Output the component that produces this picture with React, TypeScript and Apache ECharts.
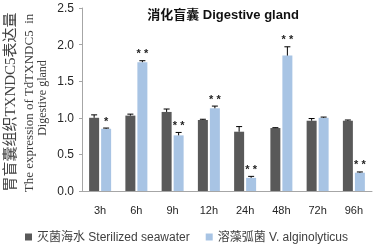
import React, { useEffect, useRef } from "react";
import * as echarts from "echarts";

const categories = ["3h", "6h", "9h", "12h", "24h", "48h", "72h", "96h"];
const sterilized = [1.0, 1.03, 1.08, 0.97, 0.81, 0.86, 0.96, 0.96];
const sterilizedErr = [0.04, 0.02, 0.04, 0.01, 0.07, 0.005, 0.03, 0.01];
const vibrio = [0.85, 1.76, 0.76, 1.13, 0.18, 1.85, 1.0, 0.25];
const vibrioErr = [0.01, 0.02, 0.04, 0.03, 0.02, 0.12, 0.01, 0.01];
const vibrioSig = ["*", "**", "**", "**", "**", "**", "", "**"];
const sterilizedSig = ["", "", "", "", "", "", "", ""];
const yTicks = [0, 0.5, 1.0, 1.5, 2.0, 2.5];

const seriesNames = ["灭菌海水 Sterilized seawater", "溶藻弧菌 V. alginolyticus"];
const colors = ["#595959", "#a8c4e4"];

const SANS = '"Liberation Sans", "Noto Sans CJK SC", sans-serif';
const SERIF = '"Liberation Serif", "Noto Sans CJK SC", serif';

const BAR_W = 10;
const OFFSET = 6;

function errSeries(vals: number[], errs: number[], sig: string[], offset: number) {
  return {
    type: "custom",
    z: 5,
    silent: true,
    encode: { x: 0, y: 1 },
    data: vals.map((v, i) => [i, v, errs[i]]),
    renderItem: (params: any, api: any) => {
      const idx = api.value(0);
      const v = api.value(1);
      const e = api.value(2);
      const base = api.coord([idx, v]);
      const top = api.coord([idx, v + e]);
      const x = base[0] + offset;
      const children: any[] = [
        {
          type: "line",
          shape: { x1: x, y1: base[1], x2: x, y2: top[1] },
          style: { stroke: "#000", lineWidth: 1 },
        },
        {
          type: "line",
          shape: { x1: x - 3, y1: top[1], x2: x + 3, y2: top[1] },
          style: { stroke: "#000", lineWidth: 1 },
        },
      ];
      const s = sig[params.dataIndex];
      if (s) {
        children.push({
          type: "text",
          x: x,
          y: top[1] - 2,
          style: {
            text: s.split("").join(" "),
            fontSize: 11,
            fontFamily: SANS,
            fontWeight: "bold",
            fill: "#222",
            align: "center",
            verticalAlign: "bottom",
          },
        });
      }
      return { type: "group", children };
    },
  };
}

export default function App() {
  const ref = useRef<HTMLDivElement>(null);
  useEffect(() => {
    if (!ref.current) return;
    const chart = echarts.init(ref.current, undefined, { renderer: "svg" });
    chart.setOption({
      animation: false,
      grid: { left: 82, right: 1, top: 8, bottom: 53 },
      legend: {
        data: seriesNames,
        left: 20,
        top: 226,
        icon: "rect",
        itemWidth: 7,
        itemHeight: 7,
        itemGap: 16,
        textStyle: { fontSize: 12, color: "#404040", fontFamily: SANS },
      },
      graphic: [
        {
          type: "text",
          x: 223,
          y: 14,
          style: {
            text: "消化盲囊 Digestive gland",
            fontSize: 13,
            fontWeight: "bold",
            fontFamily: SANS,
            fill: "#111",
            align: "center",
            verticalAlign: "middle",
          },
        },
        {
          type: "text",
          x: 10,
          y: 102,
          rotation: Math.PI / 2,
          style: {
            text: "胃盲囊组织TXNDC5表达量",
            fontSize: 15,
            fontFamily: SERIF,
            fill: "#404040",
            align: "center",
            verticalAlign: "middle",
          },
        },
        {
          type: "text",
          x: 28,
          y: 103,
          rotation: Math.PI / 2,
          style: {
            text: "The expression of TdTXNDC5  in",
            fontSize: 13,
            fontFamily: SERIF,
            fill: "#404040",
            align: "center",
            verticalAlign: "middle",
          },
        },
        {
          type: "text",
          x: 42,
          y: 98,
          rotation: Math.PI / 2,
          style: {
            text: "Digestive gland",
            fontSize: 12,
            fontFamily: SERIF,
            fill: "#404040",
            align: "center",
            verticalAlign: "middle",
          },
        },
      ],
      xAxis: {
        type: "category",
        data: categories,
        axisLine: { lineStyle: { color: "#a6a6a6" } },
        axisTick: { length: 4, lineStyle: { color: "#a6a6a6" } },
        axisLabel: { fontSize: 11, color: "#262626", fontFamily: SANS, margin: 13 },
      },
      yAxis: {
        type: "value",
        min: 0,
        max: 2.5,
        interval: 0.5,
        splitLine: { show: false },
        axisLine: { show: true, lineStyle: { color: "#a6a6a6" } },
        axisTick: { show: true, length: 3, lineStyle: { color: "#a6a6a6" } },
        axisLabel: {
          fontSize: 12,
          color: "#262626",
          fontFamily: SANS,
          margin: 8,
          formatter: (v: number) => (yTicks.includes(v) ? v.toFixed(1) : ""),
        },
      },
      series: [
        {
          name: seriesNames[0],
          type: "bar",
          data: sterilized,
          barWidth: BAR_W,
          barGap: "20%",
          itemStyle: { color: colors[0] },
        },
        {
          name: seriesNames[1],
          type: "bar",
          data: vibrio,
          barWidth: BAR_W,
          barGap: "20%",
          itemStyle: { color: colors[1] },
        },
        errSeries(sterilized, sterilizedErr, sterilizedSig, -OFFSET),
        errSeries(vibrio, vibrioErr, vibrioSig, OFFSET),
      ],
    });
    return () => chart.dispose();
  }, []);
  return (
    <div
      ref={ref}
      style={{ position: "fixed", left: 0, top: 0, width: 373, height: 244 }}
    />
  );
}
